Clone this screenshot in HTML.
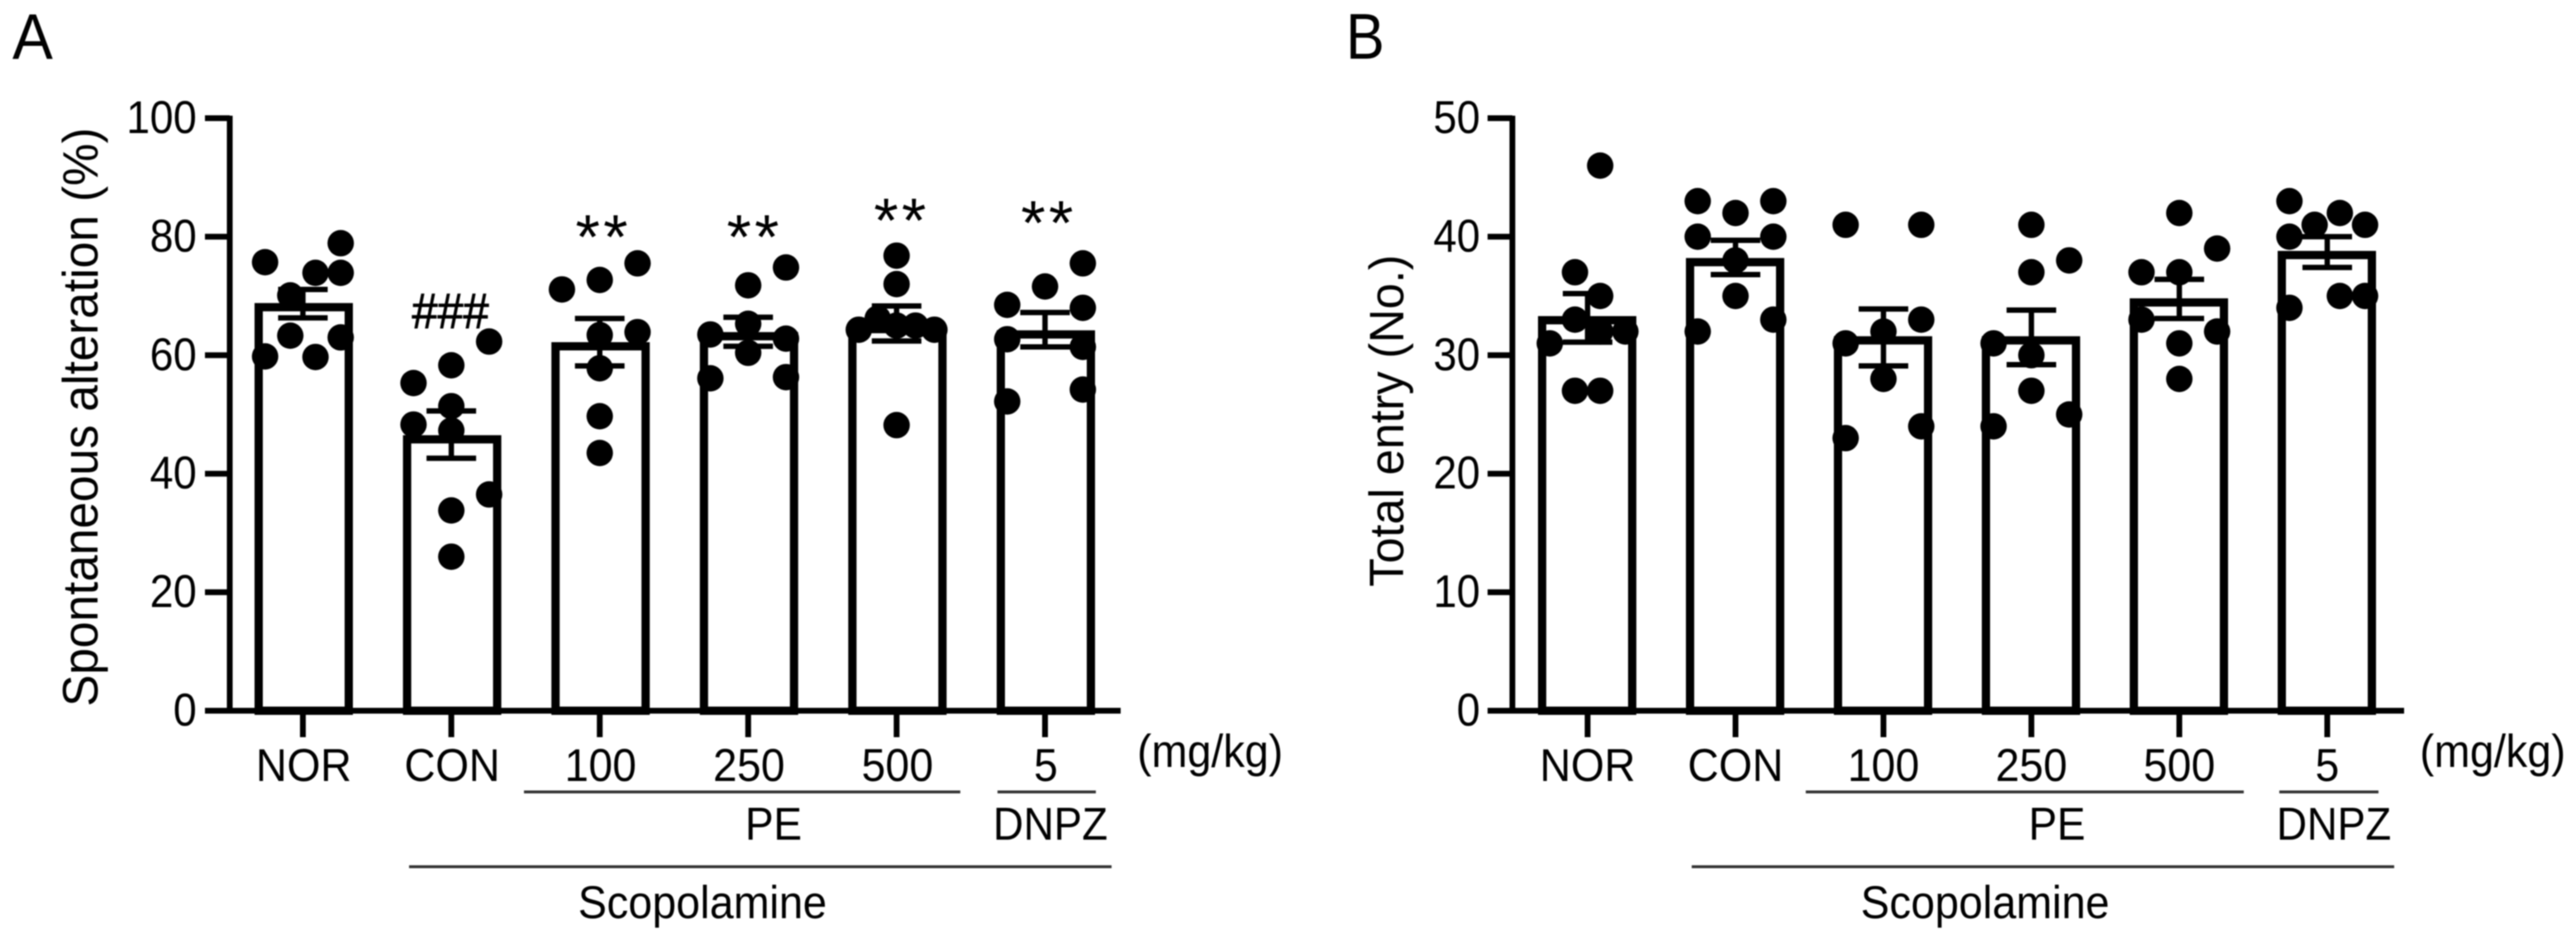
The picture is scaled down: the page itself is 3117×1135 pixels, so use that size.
<!DOCTYPE html>
<html lang="en">
<head>
<meta charset="utf-8">
<title>Spontaneous alteration and total entry</title>
<style>
html,body{margin:0;padding:0;background:#fff;width:3117px;height:1135px;overflow:hidden}
svg{display:block;filter:blur(.7px)}
text{font-family:"Liberation Sans",Arial,sans-serif;fill:#000}
</style>
</head>
<body>
<svg id="figure" xmlns="http://www.w3.org/2000/svg" width="3117" height="1135" viewBox="0 0 3117 1135">
  <rect x="0" y="0" width="3117" height="1135" fill="#fff"/>
  <g id="panel-a">
    <text transform="translate(15,71) scale(.94,1)" font-size="78">A</text>
    <text transform="translate(118,855) rotate(-90) scale(.964,1)" font-size="60">Spontaneous alteration (%)</text>
    <text transform="translate(1376,928) scale(.93,1)" font-size="56">(mg/kg)</text>
    <rect x="634" y="956.5" width="528" height="3.5" fill="#333"/>
    <rect x="1207" y="956.5" width="119" height="3.5" fill="#333"/>
    <rect x="495" y="1047" width="850" height="3.5" fill="#333"/>
    <text text-anchor="middle" transform="translate(936,1016) scale(.92,1)" font-size="56">PE</text>
    <text text-anchor="middle" transform="translate(1271,1016) scale(.91,1)" font-size="56">DNPZ</text>
    <text text-anchor="middle" transform="translate(850,1111) scale(.93,1)" font-size="56">Scopolamine</text>
    <text text-anchor="middle" stroke="#000" stroke-width="1" transform="translate(545,397) scale(.93,1)" font-size="60">###</text>
    <text text-anchor="middle" letter-spacing="4" x="730" y="313" font-size="76">**</text>
    <text text-anchor="middle" letter-spacing="4" x="913" y="313" font-size="76">**</text>
    <text text-anchor="middle" letter-spacing="4" x="1091" y="293" font-size="76">**</text>
    <text text-anchor="middle" letter-spacing="4" x="1269" y="296" font-size="76">**</text>
  </g>
  <g id="panel-b">
    <text transform="translate(1628.5,71) scale(.9,1)" font-size="78">B</text>
    <text transform="translate(1698,710) rotate(-90) scale(.974,1)" font-size="58">Total entry (No.)</text>
    <text transform="translate(2928,928) scale(.93,1)" font-size="56">(mg/kg)</text>
    <rect x="2185" y="956.5" width="530" height="3.5" fill="#333"/>
    <rect x="2758" y="956.5" width="120" height="3.5" fill="#333"/>
    <rect x="2047" y="1047" width="850" height="3.5" fill="#333"/>
    <text text-anchor="middle" transform="translate(2489,1016) scale(.92,1)" font-size="56">PE</text>
    <text text-anchor="middle" transform="translate(2824,1016) scale(.91,1)" font-size="56">DNPZ</text>
    <text text-anchor="middle" transform="translate(2402,1111) scale(.93,1)" font-size="56">Scopolamine</text>
  </g>
</svg>
<script>
// Shared categories
var categories = ['NOR', 'CON', '100', '250', '500', '5'];

// Panel A: spontaneous alteration (%)
var ticksA = [0, 20, 40, 60, 80, 100];
var meansA = [68.8, 46.5, 62.2, 63.9, 65.1, 64.2];
var errorHighA = [71.1, 50.6, 66.2, 66.4, 68.3, 67.2];
var errorLowA = [66.3, 42.6, 58.2, 61.5, 62.4, 61.4];
var pointsA = [
  [75.7, 78.9, 73.9, 73.9, 70.1, 63.3, 63.0, 59.8, 59.7],
  [55.3, 58.3, 62.3, 51.4, 48.3, 47.3, 36.5, 33.8, 26.0],
  [71.1, 72.7, 75.5, 63.4, 63.9, 57.8, 49.7, 43.5],
  [74.8, 71.8, 65.3, 63.5, 62.8, 60.4, 56.1, 56.3],
  [76.8, 72.0, 64.3, 66.2, 65.0, 65.0, 64.3, 48.2],
  [75.5, 71.6, 68.5, 68.0, 62.7, 61.4, 54.2, 52.2]
];
// Swarm column of each point, in dot widths from the bar centre
var swarmA = [
  [-1.5, 1.5, 0.5, 1.5, -0.5, -0.5, 1.5, -1.5, 0.5],
  [-1.5, 0, 1.5, 0, -1.5, 0, 1.5, 0, 0],
  [-1.5, 0, 1.5, 0, 1.5, 0, 0, 0],
  [1.5, 0, 0, -1.5, 1.5, 0, -1.5, 1.5],
  [0, 0, -1.5, -0.75, 0, 0.75, 1.5, 0],
  [1.5, 0, -1.5, 1.5, -1.5, 1.5, 1.5, -1.5]
];

// Panel B: total entry (No.)
var ticksB = [0, 10, 20, 30, 40, 50];
var meansB = [33.3, 38.2, 31.6, 31.6, 34.8, 38.8];
var errorHighB = [35.2, 39.7, 33.9, 33.8, 36.4, 40.0];
var errorLowB = [31.1, 36.8, 29.1, 29.2, 33.1, 37.4];
var pointsB = [
  [46, 37, 35, 33, 31, 32, 32, 27, 27],
  [43, 43, 42, 40, 40, 38, 35, 33, 32],
  [41, 41, 33, 32, 31, 28, 24, 23],
  [41, 37, 38, 31, 30, 27, 25, 24],
  [42, 39, 37, 37, 33, 32, 31, 28],
  [43, 42, 41, 41, 40, 35, 35, 34]
];
var swarmB = [
  [0.5, -0.5, 0.5, -0.5, -1.5, 0.5, 1.5, -0.5, 0.5],
  [-1.5, 1.5, 0, -1.5, 1.5, 0, 0, 1.5, -1.5],
  [-1.5, 1.5, 1.5, 0, -1.5, 0, 1.5, -1.5],
  [0, 0, 1.5, -1.5, 0, 0, 1.5, -1.5],
  [0, 1.5, -1.5, 0, -1.5, 1.5, 0, 0],
  [-1.5, 0.5, 1.5, -0.5, -1.5, 0.5, 1.5, -1.5]
];

var SVG_NS = 'http://www.w3.org/2000/svg';

function make(parent, tag, attrs) {
  var el = document.createElementNS(SVG_NS, tag);
  for (var key in attrs) el.setAttribute(key, attrs[key]);
  parent.appendChild(el);
  return el;
}

function drawPanel(panelId, opts, ticks, means, errorHigh, errorLow, points, swarm) {
  var panel = document.getElementById(panelId);
  var yTop = 143, yBase = 860, maxValue = ticks[ticks.length - 1];

  function yScale(v) {
    return yBase - (v / maxValue) * (yBase - yTop);
  }
  function xScale(i) {
    return opts.firstCentre + i * opts.step;
  }

  var barLayer = make(panel, 'g', {});
  
  
  means.forEach(function (v, i) {
    var top = yScale(v);
    var bar = make(barLayer, 'rect', {
      x: xScale(i) + opts.barShift - 59.5 + 5,
      y: top + 5,
      width: 119 - 10,
      height: yBase - top - 5,
      fill: '#fff',
      stroke: '#000',
      'stroke-width': 10
    });
    
    
  });

  var dotLayer = make(panel, 'g', {});
  
  
  points.forEach(function (group, i) {
    group.forEach(function (v, j) {
      var dot = make(dotLayer, 'circle', {
        cx: xScale(i) + swarm[i][j] * 30.5,
        cy: yScale(v),
        r: 16,
        fill: '#000'
      });
      
      
    });
  });

  var errorLayer = make(panel, 'g', {stroke: '#000', 'stroke-width': 6.5});
  
  
  means.forEach(function (v, i) {
    var cx = xScale(i);
    var hi = yScale(errorHigh[i]);
    var lo = yScale(errorLow[i]);
    var stem = make(errorLayer, 'line', {x1: cx, x2: cx, y1: hi, y2: lo});
    
    
    var capHigh = make(errorLayer, 'line', {x1: cx - 30, x2: cx + 30, y1: hi, y2: hi});
    
    
    var capLow = make(errorLayer, 'line', {x1: cx - 30, x2: cx + 30, y1: lo, y2: lo});
    
    
  });

  var axisLayer = make(panel, 'g', {fill: '#000'});
  
  

  var yAxis = make(axisLayer, 'rect', {x: opts.axisX - 3.5, y: yTop - 3, width: 7, height: yBase - yTop + 3});
  
  

  var xAxis = make(axisLayer, 'rect', {x: opts.axisX - 30, y: yBase - 3.5, width: opts.axisEnd - opts.axisX + 30, height: 7});
  
  

  ticks.forEach(function (t) {
    var y = yScale(t);
    var mark = make(axisLayer, 'rect', {x: opts.axisX - 30, y: y - 3.5, width: 30, height: 7});
    
    
    var label = make(axisLayer, 'text', {
      'text-anchor': 'end',
      transform: 'translate(' + opts.tickLabelRight + ',' + (y + 18) + ') scale(.91,1)',
      'font-size': 56
    });
    label.textContent = String(t);
    
    
  });

  categories.forEach(function (c, i) {
    var cx = xScale(i);
    var mark = make(axisLayer, 'rect', {x: cx - 3.5, y: yBase, width: 7, height: 32});
    
    
    var label = make(axisLayer, 'text', {
      'text-anchor': 'middle',
      transform: 'translate(' + (cx + opts.labelShift) + ',945) scale(.93,1)',
      'font-size': 56
    });
    label.textContent = c;
    
    
  });
}

drawPanel('panel-a',
  {firstCentre: 366.5, step: 179.6, barShift: 1, axisX: 278, axisEnd: 1356, tickLabelRight: 238, labelShift: 1},
  ticksA, meansA, errorHighA, errorLowA, pointsA, swarmA);
drawPanel('panel-b',
  {firstCentre: 1921, step: 179, barShift: -0.5, axisX: 1830, axisEnd: 2909, tickLabelRight: 1791, labelShift: 0},
  ticksB, meansB, errorHighB, errorLowB, pointsB, swarmB);
</script>
</body>
</html>
